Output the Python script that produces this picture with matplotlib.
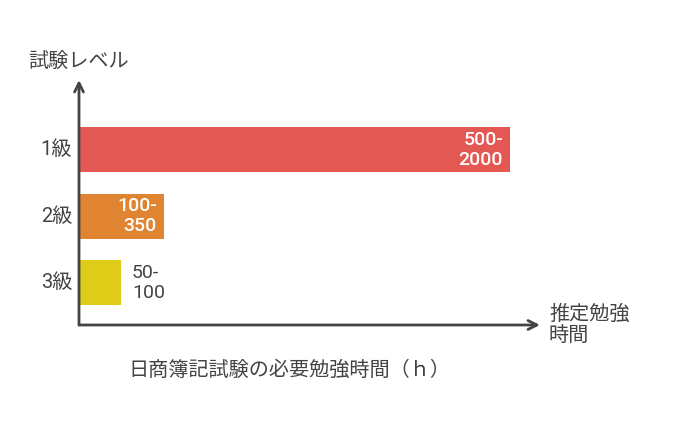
import matplotlib
matplotlib.use('Agg')
import matplotlib.pyplot as plt

# data: exam levels (top to bottom) and study hours
levels = ['1級', '2級', '3級']
hour_labels = ['500-\n2000', '100-\n350', '50-\n100']
# bar lengths as drawn in the reference (scaled so 1級 = 2000)
bar_len = [2000, 394, 195]
colors = ['#E45853', '#E08431', '#DFCC18']
label_inside = [True, True, False]

title = '日商簿記試験の必要勉強時間（ｈ）'
ylabel = '試験レベル'
xlabel = '推定勉強\n時間'

plt.rcParams['font.family'] = ['Roboto', 'Noto Sans CJK JP', 'DejaVu Sans']
ink = '#444444'
jp_size = 14.5

W, H = 680, 422
fig = plt.figure(figsize=(W / 100, H / 100), dpi=100)
fig.patch.set_facecolor('white')


def px(x, y):
    """pixel (from top-left) to figure fraction"""
    return x / W, 1 - y / H


x0, y0, x1, y1 = 79, 325, 540, 80
ax = fig.add_axes([x0 / W, 1 - y0 / H, (x1 - x0) / W, (y0 - y1) / H])
ax.set_xlim(0, 2000 * (x1 - x0) / (510 - x0))
ax.set_ylim(-0.632, 3.05)
ax.axis('off')

ypos = [2, 1, 0]
ax.barh(ypos, bar_len, height=0.677, color=colors)

unit = 2000 / (510 - x0)  # data units per pixel
for y, v, lev, lab, inside in zip(ypos, bar_len, levels, hour_labels,
                                  label_inside):
    if inside:
        ax.text(v - 7 * unit, y, lab, ha='right', va='center', color='white',
                fontsize=14, fontweight='medium', linespacing=1.15)
    else:
        ax.text(v + 11 * unit, y, lab, ha='left', va='center', color=ink,
                fontsize=14, linespacing=1.15)
    ax.text(-7 * unit, y, lev, ha='right', va='center', color=ink,
            fontsize=jp_size)

# axes arrows
arrow = dict(arrowstyle='->', color=ink, lw=2, shrinkA=0, shrinkB=0,
             mutation_scale=16)
ax.annotate('', xy=(0, 1), xytext=(0, 0), xycoords='axes fraction',
            arrowprops=arrow)
ax.annotate('', xy=(1, 0), xytext=(0, 0), xycoords='axes fraction',
            arrowprops=arrow)

fig.text(*px(79, 61), ylabel, ha='center', va='center', color=ink,
         fontsize=jp_size)
fig.text(*px(549, 325), xlabel, ha='left', va='center', color=ink,
         fontsize=jp_size, linespacing=1.15)
fig.text(*px(289, 370), title, ha='center', va='center', color=ink,
         fontsize=jp_size)

fig.savefig('out.png', dpi=100, facecolor='white')
